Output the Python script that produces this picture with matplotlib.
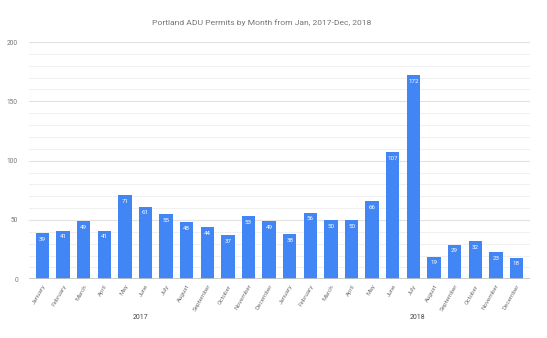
import matplotlib.pyplot as plt
from matplotlib.ticker import MultipleLocator

plt.rcParams["font.family"] = ["Roboto", "DejaVu Sans"]

months = ["January", "February", "March", "April", "May", "June", "July",
          "August", "September", "October", "November", "December"]
years = ["2017", "2018"]
permits_2017 = [39, 41, 49, 41, 71, 61, 55, 48, 44, 37, 53, 49]
permits_2018 = [38, 56, 50, 50, 66, 107, 172, 19, 29, 32, 23, 18]

labels = months + months
values = permits_2017 + permits_2018
x = list(range(len(values)))

blue = "#4285F4"
grey = "#757575"

fig = plt.figure(figsize=(5.47, 3.38), dpi=100)
ax = fig.add_axes([0.053, 0.1737, 0.916, 0.702])

bars = ax.bar(x, values, width=0.65, color=blue, zorder=3)
for xi, v in zip(x, values):
    ax.text(xi, v - 3, str(v), ha="center", va="top", color="white",
            fontsize=4.5, zorder=4)

ax.set_ylim(0, 200)
ax.set_xlim(-0.65, 23.66)
ax.yaxis.set_major_locator(MultipleLocator(50))
ax.yaxis.set_minor_locator(MultipleLocator(10))
ax.grid(which="major", axis="y", color="#e2e2e2", linewidth=0.8, zorder=0)
ax.grid(which="minor", axis="y", color="#f0f0f0", linewidth=0.7, zorder=0)
ax.axhline(0, color="#c4c4c4", linewidth=1.2, zorder=5)

for side in ["top", "right", "left", "bottom"]:
    ax.spines[side].set_visible(False)

ax.tick_params(axis="y", which="both", length=0, labelsize=4.7,
               labelcolor=grey, pad=8)
ax.tick_params(axis="x", length=0, labelsize=4.5, labelcolor=grey, pad=3)
ax.set_xticks(x)
ax.set_xticklabels(labels, rotation=60, ha="right", rotation_mode="anchor")

# year captions under each half of the axis
for pos, yr in zip([4.78, 18.2], years):
    ax.text(pos, -0.159, yr, transform=ax.get_xaxis_transform(),
            ha="center", va="center", fontsize=5, color="#444444")

fig.text(0.479, 0.932, "Portland ADU Permits by Month from Jan, 2017-Dec, 2018",
         ha="center", va="center", fontsize=6.1, color=grey)

fig.savefig("out.png", dpi=100)
